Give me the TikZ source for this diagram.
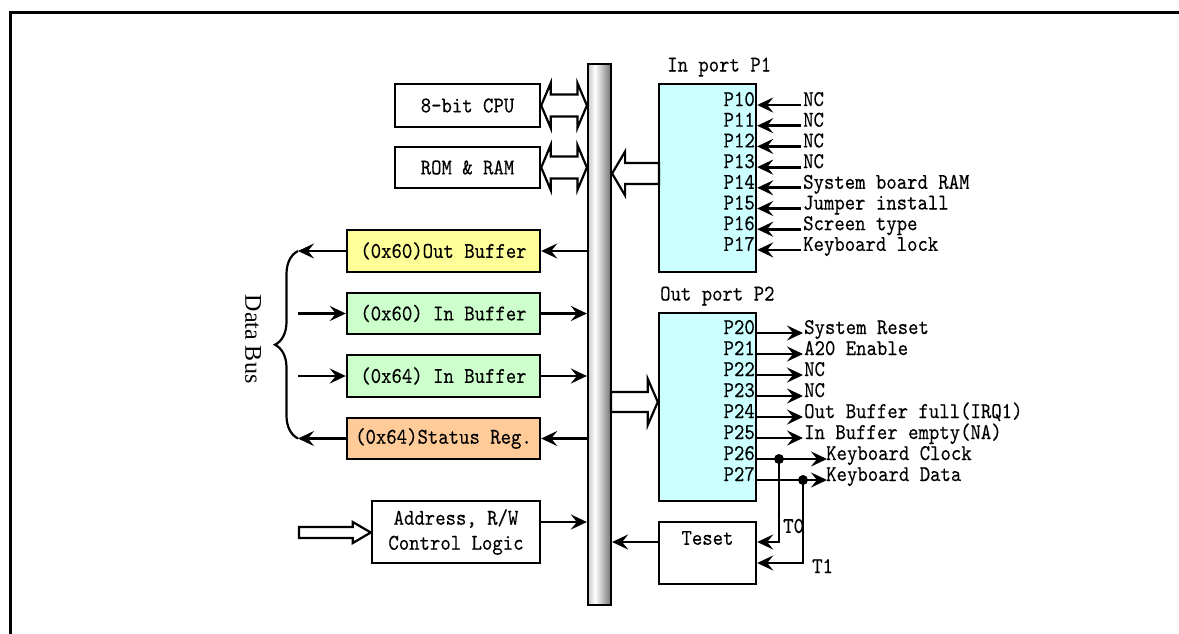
\documentclass[tikz,border=0pt]{standalone}
\usepackage{fontspec}
\usetikzlibrary{arrows.meta,calc,decorations.pathreplacing}
\newfontfamily\serifdb{Liberation Serif}
\newfontfamily\monof{lmmono10-regular}[Extension=.otf, FakeStretch=0.88, FakeBold=0.25]
\definecolor{ycol}{HTML}{FFFF99}
\definecolor{gcol}{HTML}{CCFFCC}
\definecolor{ocol}{HTML}{FFCC99}
\definecolor{ccol}{HTML}{CCFFFF}
\pgfdeclarehorizontalshading{busshade}{100bp}{color(0bp)=(black!22); color(25bp)=(black!22); color(40bp)=(white); color(75bp)=(black!55); color(100bp)=(black!55)}
\newcommand\dblhollow[2]{%
  \draw[hollowarr] (#1) -- ++(9.5,-22.5) -- ++(0,11.5) -- ($(#2)+(-9.5,-11)$) -- ++(0,-11.5) -- (#2)
    -- ++(-9.5,22.5) -- ++(0,-11.5) -- ($(#1)+(9.5,11)$) -- ++(0,11.5) -- cycle;}
\newcommand\hollowarrow[5]{%
  \draw[hollowarr] ($(#1)+(0,-#3)$) -- ($(#2)+(#5,-#3)$) -- ($(#2)+(#5,-#4)$) -- (#2)
    -- ($(#2)+(#5,#4)$) -- ($(#2)+(#5,#3)$) -- ($(#1)+(0,#3)$) -- cycle;}
\begin{document}
\begin{tikzpicture}[x=1pt,y=-1pt,
  every node/.style={font=\monof\fontsize{22.5}{25}\selectfont},
  box/.style={draw, line width=2.4pt, inner sep=0pt, align=center},
  arr/.style={line width=2.8pt, -{Stealth[length=16pt,width=15pt,inset=6pt]}},
  hollowarr/.style={draw, line width=2.2pt, fill=white, line join=miter},
  pin/.style={anchor=base east, inner sep=0pt},
  ext/.style={anchor=base west, inner sep=0pt},
  plain/.style={anchor=west, inner sep=0pt}]
\useasboundingbox (0,0) rectangle (1179,633);
% frame
\draw[line width=2.6pt] (10.3,645) -- (10.3,12.5) -- (1190,12.5);

% bus bar
\node[draw, line width=2.2pt, shade, shading=busshade, minimum width=23, minimum height=541, inner sep=0pt] (bus) at (599.5,334.5) {};

% left boxes
\node[box, minimum width=145, minimum height=43] (cpu) at (467.5,105.5) {8-bit CPU};
\node[box, minimum width=145, minimum height=41] (mem) at (467.5,167.5) {ROM \& RAM};
\node[box, fill=ycol, minimum width=193, minimum height=42] (outbuf) at (443.5,251) {(0x60)Out Buffer};
\node[box, fill=gcol, minimum width=193, minimum height=41] (inbufa) at (443.5,313.5) {(0x60) In Buffer};
\node[box, fill=gcol, minimum width=193, minimum height=42] (inbufb) at (443.5,376) {(0x64) In Buffer};
\node[box, fill=ocol, minimum width=193, minimum height=41] (status) at (443.5,438.5) {(0x64)Status Reg.};
\node[box, minimum width=168, minimum height=62] (addr) at (456,532) {Address, R/W\\Control Logic};

% right boxes
\node[box, fill=ccol, minimum width=97, minimum height=188] (p1) at (707.5,178) {};
\node[box, fill=ccol, minimum width=97, minimum height=188] (p2) at (707.5,407) {};
\node[box, minimum width=97, minimum height=62] (teset) at (707.5,553) {};
\node[inner sep=0pt] (tesettxt) at (707.5,538) {Teset};
\node[plain] (p1t) at (667,67) {In port P1};
\node[plain] (p2t) at (660,296) {Out port P2};

% hollow arrows
\dblhollow{cpu.east}{cpu.east -| bus.west}
\dblhollow{mem.east}{mem.east -| bus.west}
\coordinate (h1s) at (659,173.5);
\hollowarrow{h1s}{h1s -| bus.east}{10.5}{22}{13}
\coordinate (h2s) at (611,402);
\hollowarrow{h2s}{h2s -| p2.west}{10}{23}{-10}
\coordinate (ha) at (299,532.5);
\hollowarrow{ha}{ha -| addr.west}{5.5}{10.5}{-18}

% port P1 pins
\foreach \i/\t in {0/NC,1/NC,2/NC,3/NC,4/System board RAM,5/Jumper install,6/Screen type,7/Keyboard lock}{
  \pgfmathsetmacro\yy{105+20.7*\i}
  \node[pin] (pa\i) at (755,\yy+1) {P1\i};
  \node[ext] (ea\i) at (803,\yy+1) {\t};
  \coordinate (sa\i) at (801,\yy);
  \draw[arr] (sa\i) -- (sa\i -| p1.east);
}
% port P2 pins
\foreach \i/\t in {0/System Reset,1/A20 Enable,2/NC,3/NC,4/Out Buffer full(IRQ1),5/In Buffer empty(NA)}{
  \pgfmathsetmacro\yy{333+21*\i}
  \node[pin] (pb\i) at (755,\yy+1) {P2\i};
  \node[ext] (eb\i) at (804,\yy+1) {\t};
  \coordinate (sb\i) at (803,\yy);
  \draw[arr] (sb\i -| p2.east) -- (sb\i);
}
\node[pin] (pb6) at (755,460) {P26};
\node[pin] (pb7) at (755,481) {P27};
\node[ext] (eb6) at (826,460) {Keyboard Clock};
\node[ext] (eb7) at (826,481) {Keyboard Data};
\coordinate (sb6) at (827,459);
\coordinate (sb7) at (827,480);
\draw[arr] (sb6 -| p2.east) -- (sb6);
\draw[arr] (sb7 -| p2.east) -- (sb7);
\coordinate (d6) at (779,459);
\coordinate (d7) at (803,480);
\fill (d6) circle (5);
\fill (d7) circle (5);
\coordinate (t0c) at (779,542);
\coordinate (t1c) at (803,563);
\draw[arr] (d6) -- (t0c) -- (t0c -| teset.east);
\draw[arr] (d7) -- (t1c) -- (t1c -| teset.east);
\node[plain] (t0l) at (783,526) {T0};
\node[plain] (t1l) at (812,566) {T1};
\coordinate (tb) at (659,542);
\draw[arr] (tb) -- (tb -| bus.east);

% left arrows
\coordinate (bl) at (298,0);
\draw[arr] (outbuf.east -| bus.west) -- (outbuf.east);
\draw[arr] (outbuf.west) -- (outbuf.west -| bl);
\draw[arr] (inbufa.west -| bl) -- (inbufa.west);
\draw[arr] (inbufa.east) -- (inbufa.east -| bus.west);
\draw[arr] (inbufb.west -| bl) -- (inbufb.west);
\draw[arr] (inbufb.east) -- (inbufb.east -| bus.west);
\draw[arr] (status.east -| bus.west) -- (status.east);
\draw[arr] (status.west) -- (status.west -| bl);
\coordinate (ar) at (540,522);
\draw[arr] (ar) -- (ar -| bus.west);

% brace
\draw[line width=2.2pt, decorate, decoration={brace, amplitude=23pt}] (status.west -| bl) -- (outbuf.west -| bl);
\node[rotate=-90, inner sep=0pt, font=\serifdb\fontsize{24}{28}\selectfont] (db) at (253,339) {Data Bus};
\end{tikzpicture}
\end{document}
